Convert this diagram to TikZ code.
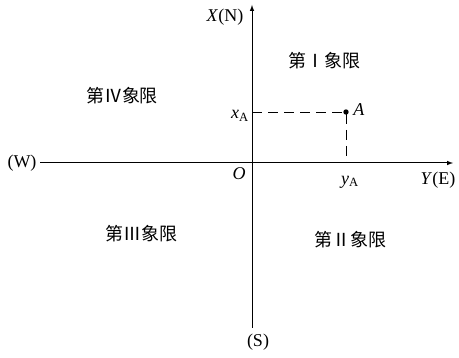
\documentclass[tikz,border=0pt]{standalone}
\usepackage{fontspec}
\setmainfont{Liberation Serif}
\newfontfamily\cjk{Noto Sans CJK SC}
\usetikzlibrary{arrows}
\usetikzlibrary{calc}

\tikzset{
	axis/.style={-latex, line width=1pt},
	helpline/.style={dashed, dash pattern=on 10pt off 6pt, line width=0.8pt},
	quadrant/.style={font=\cjk\fontsize{18}{21}\selectfont},
	lbl/.style={font=\fontsize{18}{21}\selectfont, inner sep=1pt}
}

\begin{document}
\begin{tikzpicture}[x=1pt, y=-1pt]
				\useasboundingbox (0,0) rectangle (459,358);
				\coordinate (O) at (252,163);
				\coordinate (W) at (40,163);
				\coordinate (E) at (453,163);
				\coordinate (N) at (252,5);
				\coordinate (S) at (252,328);
				\coordinate (A) at (346,112);
				\coordinate (xA) at (O |- A);
				\coordinate (yA) at (A |- O);
				\draw [axis] (W) -- (E);
				\draw [axis] (S) -- (N);
				\draw [helpline] (xA) -- (A) -- (yA);
				\fill (A) circle (2.7pt);
				\node [lbl] (lA) at (359,110) {\textit{A}};
				\node [lbl] (lxA) at (240,116) {\textit{x}\textsubscript{A}};
				\node [lbl] (lyA) at (350,182) {\textit{y}\textsubscript{A}};
				\node [lbl] (lO) at (239,174) {\textit{O}};
				\node [lbl] (lN) at (225,17) {\textit{X}(N)};
				\node [lbl] (lE) at (438,180) {\textit{Y}(E)};
				\node [lbl] (lW) at (22,163) {(W)};
				\node [lbl] (lS) at (258,342) {(S)};
				\node [quadrant] (q1) at (324,61) {第Ⅰ象限};
				\node [quadrant] (q2) at (350,240) {第Ⅱ象限};
				\node [quadrant] (q3) at (142,234) {第Ⅲ象限};
				\node [quadrant] (q4) at (122,96) {第Ⅳ象限};
			\end{tikzpicture}
\end{document}
